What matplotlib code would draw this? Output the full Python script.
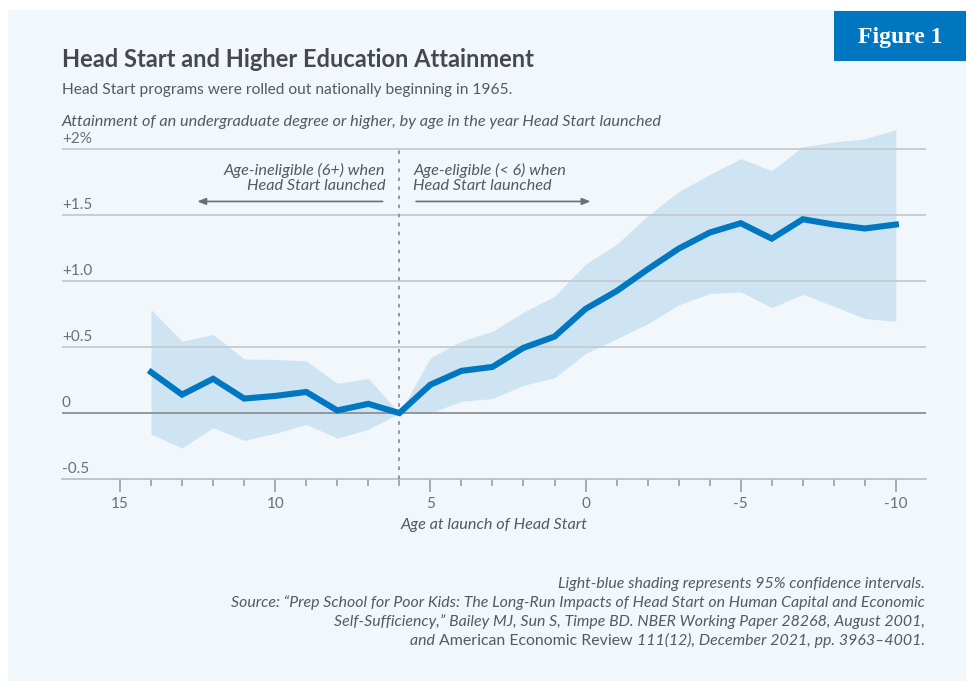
import matplotlib
matplotlib.use("Agg")
import matplotlib.pyplot as plt
from matplotlib.patches import Rectangle
from matplotlib.transforms import blended_transform_factory

# ---- data ----
ages = [14, 13, 12, 11, 10, 9, 8, 7, 6, 5, 4, 3, 2, 1, 0, -1, -2, -3, -4, -5, -6, -7, -8, -9, -10]
estimate = [0.31, 0.14, 0.26, 0.11, 0.13, 0.16, 0.02, 0.07, 0.0, 0.215, 0.32, 0.35, 0.495, 0.58, 0.79,
            0.925, 1.09, 1.247, 1.369, 1.44, 1.323, 1.47, 1.43, 1.40, 1.43]
upper = [0.785, 0.545, 0.596, 0.41, 0.407, 0.396, 0.225, 0.263, 0.0, 0.42, 0.545, 0.62, 0.765, 0.886, 1.13,
         1.28, 1.495, 1.68, 1.81, 1.93, 1.84, 2.02, 2.056, 2.08, 2.15]
lower = [-0.16, -0.265, -0.11, -0.207, -0.154, -0.086, -0.19, -0.124, 0.0, 0.0, 0.09, 0.11, 0.21, 0.268, 0.452,
         0.563, 0.677, 0.82, 0.907, 0.919, 0.80, 0.90, 0.81, 0.717, 0.697]
ytick_vals = [-0.5, 0, 0.5, 1.0, 1.5, 2.0]
ytick_labels = ["-0.5", "0", "+0.5", "+1.0", "+1.5", "+2%"]
xtick_vals = [15, 10, 5, 0, -5, -10]
xtick_labels = ["15", "10", "5", "0", "-5", "-10"]

FONT = "Lato"
plt.rcParams['font.family'] = [FONT, 'DejaVu Sans']

W, H = 974, 681
fig = plt.figure(figsize=(W / 100, H / 100), dpi=100)
fig.patch.set_facecolor("white")

def fx(px):
    return px / W

def fy(py):
    return 1 - py / H

BG = "#f2f7fb"
BLUE = "#0077c0"
TXT = "#555a5f"
GRID = "#c5cacf"

# panel
fig.add_artist(Rectangle((fx(8), 0), fx(966) - fx(8), fy(10), transform=fig.transFigure,
                         facecolor=BG, edgecolor="none", zorder=-10))
# badge
fig.add_artist(Rectangle((fx(834), fy(61)), fx(966) - fx(834), fy(11) - fy(61),
                         transform=fig.transFigure, facecolor=BLUE, edgecolor="none", zorder=-9))
fig.text(fx(900), fy(37), "Figure 1", color="white", fontsize=17, fontweight="bold",
         family=["Liberation Serif"], ha="center", va="center")

# titles
fig.text(fx(62), fy(67), "Head Start and Higher Education Attainment", fontsize=17,
         fontweight="bold", color="#45494d", ha="left", va="baseline")
fig.text(fx(62), fy(94), "Head Start programs were rolled out nationally beginning in 1965.",
         fontsize=11.2, color=TXT, ha="left", va="baseline")
fig.text(fx(62), fy(126), "Attainment of an undergraduate degree or higher, by age in the year Head Start launched",
         fontsize=11.7, style="italic", color=TXT, ha="left", va="baseline")

# axes
ax = fig.add_axes([fx(62), fy(479), fx(926) - fx(62), fy(123) - fy(479)])
ax.set_facecolor("none")
ax.set_xlim(16.87, -10.97)
ax.set_ylim(-0.5, 2.2)
for s in ["top", "right", "left"]:
    ax.spines[s].set_visible(False)
ax.spines["bottom"].set_color("#b8bdc2")
ax.spines["bottom"].set_linewidth(1.2)

ax.fill_between(ages, lower, upper, color="#cfe4f2", linewidth=0, zorder=1)
for v in ytick_vals[1:]:
    ax.axhline(v, color="#8c9196" if v == 0 else GRID, linewidth=1.3, zorder=2)
ax.plot(ages, estimate, color=BLUE, linewidth=4.4, solid_joinstyle="miter", zorder=4)

# y labels above gridlines
trans = blended_transform_factory(ax.transAxes, ax.transData)
for v, lab in zip(ytick_vals, ytick_labels):
    ax.text(0, v + 0.025, lab, transform=trans, ha="left", va="bottom", fontsize=11, color="#6a6f74")
ax.set_yticks([])

ax.set_xticks(xtick_vals)
ax.set_xticklabels(xtick_labels)
ax.set_xticks(list(range(15, -11, -1)), minor=True)
ax.tick_params(axis="x", which="major", length=9, width=1.3, color="#a0a5aa", labelsize=11,
               labelcolor="#6a6f74", pad=4)
ax.tick_params(axis="x", which="minor", length=5, width=1.3, color="#a0a5aa")
ax.set_xlabel("Age at launch of Head Start", fontsize=11.7, style="italic", color=TXT, labelpad=5)

# dashed vertical line
ax.plot([6, 6], [-0.5, 2.0], color="#8c9196", linewidth=1.3, linestyle=(0, (2, 3)), zorder=3)

# annotations
ax.text(6.45, 1.785, "Age-ineligible (6+) when\nHead Start launched", ha="right", va="center",
        fontsize=11.7, style="italic", color=TXT, linespacing=1.05)
ax.text(5.55, 1.785, "Age-eligible (< 6) when\nHead Start launched", ha="left", va="center",
        fontsize=11.7, style="italic", color=TXT, linespacing=1.05)
ax.annotate("", xy=(12.6, 1.605), xytext=(6.45, 1.605),
            arrowprops=dict(arrowstyle="-|>,head_length=0.5,head_width=0.2", color="#6a6f74", lw=1.2))
ax.annotate("", xy=(-0.25, 1.605), xytext=(5.55, 1.605),
            arrowprops=dict(arrowstyle="-|>,head_length=0.5,head_width=0.2", color="#6a6f74", lw=1.2))

# footer
FS = 11.4
RX = fx(925)
fig.text(RX, fy(588), "Light-blue shading represents 95% confidence intervals.", ha="right",
         va="baseline", fontsize=FS, style="italic", color=TXT)
fig.text(RX, fy(607), "Source: \u201cPrep School for Poor Kids: The Long-Run Impacts of Head Start on Human Capital and Economic",
         ha="right", va="baseline", fontsize=FS, style="italic", color=TXT)
fig.text(RX, fy(626), "Self-Sufficiency,\u201d Bailey MJ, Sun S, Timpe BD. NBER Working Paper 28268, August 2001,",
         ha="right", va="baseline", fontsize=FS, style="italic", color=TXT)

renderer = fig.canvas.get_renderer()
parts = [("and\u00a0", "italic"), ("American Economic Review\u00a0", "normal"),
         ("111(12), December 2021, pp. 3963\u20134001.", "italic")]
x_cur = RX
for txt, st in reversed(parts):
    t = fig.text(x_cur, fy(645), txt, ha="right", va="baseline", fontsize=FS, style=st, color=TXT)
    bb = t.get_window_extent(renderer=renderer)
    x_cur -= bb.width / W

fig.savefig("out.png", dpi=100, facecolor=fig.get_facecolor())
